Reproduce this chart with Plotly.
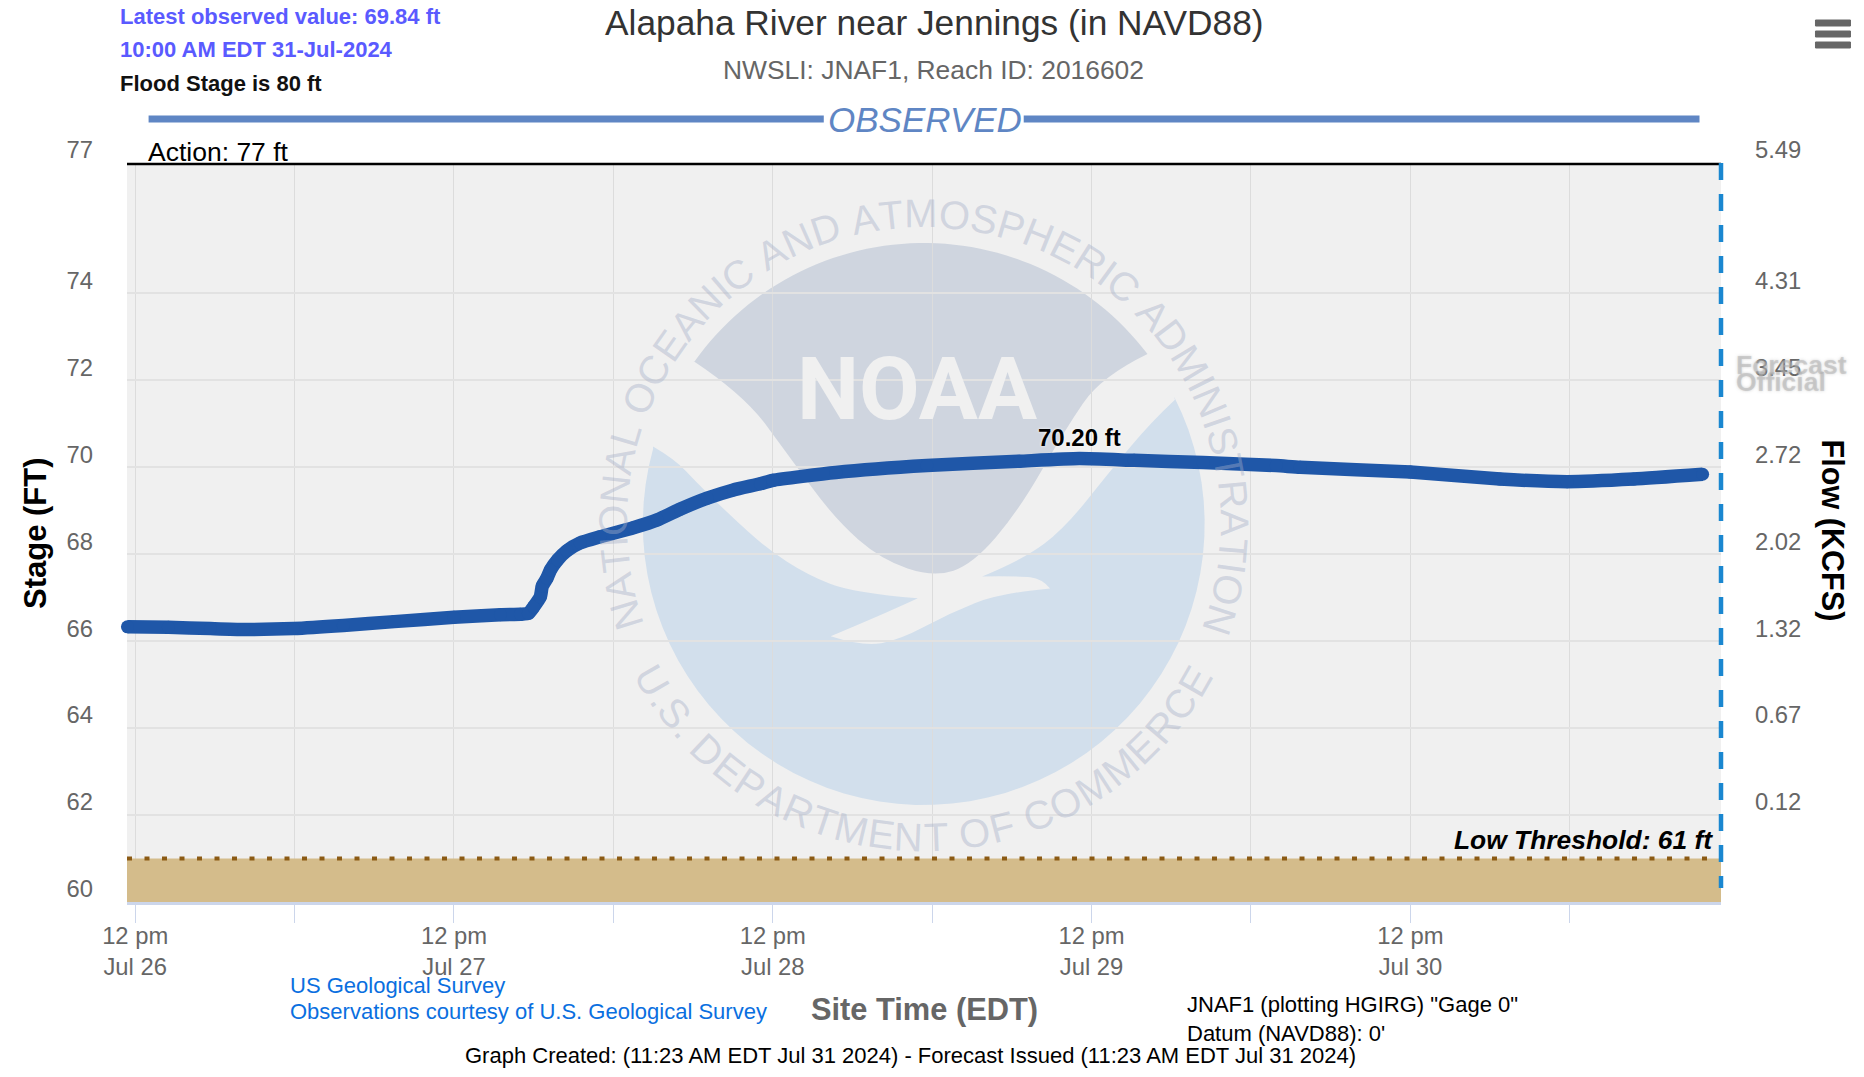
import math
import plotly.graph_objects as go

# Page pixels to paper coordinates (plot area runs 127-1721 across, 163-902 down)
px_x = lambda x: (x - 127) / (1721.5 - 127)
px_y = lambda y: (902 - y) / (902 - 163)
FONT = "Liberation Sans"

# Observed stage
obs = [("2024-07-26 11:25", 66.33), ("2024-07-26 14:30", 66.32), ("2024-07-26 17:40", 66.29), ("2024-07-26 20:10", 66.27),
       ("2024-07-26 23:55", 66.29), ("2024-07-27 03:40", 66.36), ("2024-07-27 07:30", 66.45), ("2024-07-27 12:00", 66.55),
       ("2024-07-27 15:30", 66.61), ("2024-07-27 17:00", 66.62), ("2024-07-27 17:36", 66.64), ("2024-07-27 18:00", 66.79),
       ("2024-07-27 18:30", 67.02), ("2024-07-27 18:39", 67.27), ("2024-07-27 19:00", 67.45), ("2024-07-27 19:16", 67.64),
       ("2024-07-27 19:48", 67.87), ("2024-07-27 20:30", 68.08), ("2024-07-27 21:30", 68.26), ("2024-07-27 23:00", 68.40),
       ("2024-07-28 01:30", 68.61), ("2024-07-28 03:18", 68.79), ("2024-07-28 05:03", 69.04), ("2024-07-28 07:04", 69.29),
       ("2024-07-28 09:02", 69.48), ("2024-07-28 11:04", 69.62), ("2024-07-28 12:00", 69.70), ("2024-07-28 16:45", 69.88),
       ("2024-07-28 23:36", 70.04), ("2024-07-29 06:34", 70.14), ("2024-07-29 11:04", 70.20), ("2024-07-29 15:12", 70.16),
       ("2024-07-29 20:24", 70.11), ("2024-07-30 01:54", 70.04), ("2024-07-30 03:42", 70.00), ("2024-07-30 12:00", 69.89),
       ("2024-07-30 18:45", 69.73), ("2024-07-30 23:48", 69.67), ("2024-07-31 04:48", 69.73), ("2024-07-31 10:00", 69.84)]
obs_time = [o[0] for o in obs]
obs_stage = [o[1] for o in obs]
start = "2024-07-26 11:23"
end = "2024-07-31 11:23"

stage_ticks = [60, 62, 64, 66, 68, 70, 72, 74, 77]
flow_ticks = [62, 64, 66, 68, 70, 72, 74, 77]
flow_labels = ["0.12", "0.67", "1.32", "2.02", "2.72", "3.45", "4.31", "5.49"]
time_ticks = ["2024-07-26 12:00", "2024-07-27 00:00", "2024-07-27 12:00", "2024-07-28 00:00", "2024-07-28 12:00",
              "2024-07-29 00:00", "2024-07-29 12:00", "2024-07-30 00:00", "2024-07-30 12:00", "2024-07-31 00:00"]
time_labels = ["12 pm<br>Jul 26", "", "12 pm<br>Jul 27", "", "12 pm<br>Jul 28", "", "12 pm<br>Jul 29", "",
               "12 pm<br>Jul 30", ""]

figure = go.Figure()
# Low threshold band
figure.add_trace(go.Scatter(x=[start, end], y=[61, 61], mode="lines", fill="tozeroy", fillcolor="#d4bc8b",
                            line=dict(color="#8b5a14", width=4, dash="5px,12.5px"), hoverinfo="skip"))
# Keeps the flow axis on the page
figure.add_trace(go.Scatter(x=[start], y=[60], mode="markers", yaxis="y2", marker=dict(opacity=0), hoverinfo="skip"))
figure.add_trace(go.Scatter(x=obs_time, y=obs_stage, mode="lines+markers", cliponaxis=False,
                            line=dict(color="#1f57a8", width=13.5, shape="spline", smoothing=0.5),
                            marker=dict(color="#1f57a8", size=13)))

figure.update_layout(
    width=1864, height=1077, margin=dict(l=127, r=142.5, t=163, b=175, autoexpand=False),
    paper_bgcolor="white", plot_bgcolor="#f0f0f0", showlegend=False, font=dict(family=FONT, size=23.8, color="#666666"),
    xaxis=dict(type="date", range=[start, end], tickmode="array", tickvals=time_ticks, ticktext=time_labels,
               ticks="outside", ticklen=18, tickcolor="#ccd6eb", gridcolor="#dcdcdc", gridwidth=1, ticklabelstandoff=-8,
               showline=True, linecolor="#ccd6eb", linewidth=3, zeroline=False),
    yaxis=dict(range=[60, 77], tickmode="array", tickvals=stage_ticks, ticklabelshift=-13, ticklabelstandoff=33,
               gridcolor="#e2e2e2", gridwidth=2, zeroline=False, ticks=""),
    yaxis2=dict(range=[60, 77], overlaying="y", side="right", tickmode="array", tickvals=flow_ticks,
                ticktext=flow_labels, ticklabelshift=-13, ticklabelstandoff=33, showgrid=False, zeroline=False, ticks=""),
)

# Action stage along the top of the plot, forecast divider down the right side
figure.add_shape(type="line", xref="paper", yref="paper", x0=0, x1=1, y0=px_y(164), y1=px_y(164), line=dict(color="black", width=2.5))
figure.add_shape(type="line", xref="paper", yref="paper", x0=1, x1=1, y0=1, y1=px_y(888),
                 line=dict(color="#1a87d0", width=4.5, dash="17px,14px"))

# NOAA seal behind the plot, outline
zx = lambda v: px_x(560 + v / 2.178)
zy = lambda v: px_y(180 + v / 2.24)


def curve(pts):
    out = ""
    for i in range(1, len(pts) - 1):
        if i < len(pts) - 2:
            nx, ny = (pts[i][0] + pts[i + 1][0]) / 2, (pts[i][1] + pts[i + 1][1]) / 2
        else:
            nx, ny = pts[i + 1]
        out += f" Q {zx(pts[i][0])},{zy(pts[i][1])} {zx(nx)},{zy(ny)}"
    return out


def arc(a0, a1):
    out = ""
    for k in range(61):
        a = math.radians(a0 + (a1 - a0) * k / 60)
        out += f" L {px_x(924 + 281 * math.sin(a))},{px_y(524 - 281 * math.cos(a))}"
    return out


gray_edge = [(1278, 388), (1180, 440), (1100, 560), (1000, 740), (900, 860), (815, 890), (700, 850), (600, 760),
             (500, 620), (400, 480), (290, 405)]
gray_path = f"M {zx(290)},{zy(405)}" + arc(-54.7, 52.8) + curve(gray_edge) + " Z"
blue_path = f"M {zx(203)},{zy(597)}"
blue_path += curve([(203, 597), (250, 625), (300, 680), (370, 750), (450, 825), (540, 885), (640, 925), (780, 937)])
blue_path += curve([(780, 937), (700, 975), (590, 1022)])
blue_path += curve([(590, 1022), (660, 1045), (740, 1030), (850, 970), (960, 925), (1068, 915)])
blue_path += curve([(1068, 915), (1050, 893), (1000, 887), (920, 888)])
blue_path += curve([(920, 888), (1010, 850), (1100, 780), (1200, 650), (1290, 540), (1340, 492)])
blue_path += arc(63.0, 285.5) + " Z"
figure.add_shape(type="path", path=gray_path, xref="paper", yref="paper", fillcolor="#cfd5df", line_width=0, layer="below")
figure.add_shape(type="path", path=blue_path, xref="paper", yref="paper", fillcolor="#d2dfec", line_width=0, layer="below")

# OBSERVED rule and the menu button
figure.add_shape(type="line", xref="paper", yref="paper", x0=px_x(148.6), x1=px_x(824), y0=px_y(119), y1=px_y(119),
                 line=dict(color="#5f86c4", width=7))
figure.add_shape(type="line", xref="paper", yref="paper", x0=px_x(1024), x1=px_x(1700), y0=px_y(119), y1=px_y(119),
                 line=dict(color="#5f86c4", width=7))
for y in [23, 34, 45]:
    figure.add_shape(type="rect", xref="paper", yref="paper", x0=px_x(1816), x1=px_x(1851), y0=px_y(y - 3), y1=px_y(y + 3),
                     fillcolor="#666666", line=dict(color="#666666", width=1))

# Page texts: text, x, y, anchor, size, colour, bold, italic
texts = [
    ("Alapaha River near Jennings (in NAVD88)", 935, 23, "center", 35.3, "#333333", False, False),
    ("NWSLI: JNAF1, Reach ID: 2016602", 934, 70, "center", 26.4, "#666666", False, False),
    ("Latest observed value: 69.84 ft", 118, 16, "left", 22, "#5a5aff", True, False),
    ("10:00 AM EDT 31-Jul-2024", 118, 49, "left", 22, "#5a5aff", True, False),
    ("Flood Stage is 80 ft", 118, 83, "left", 22, "#111111", True, False),
    ("OBSERVED", 925, 119, "center", 35, "#5f86c4", False, True),
    ("Action: 77 ft", 146, 152, "left", 26.5, "black", False, False),
    ("Low Threshold: 61 ft", 1715.5, 840, "right", 26.4, "black", True, True),
    ("Site Time (EDT)", 925, 1009, "center", 30.8, "#666666", True, False),
    ("US Geological Survey", 287.6, 985, "left", 22, "#0a6fe0", False, False),
    ("Observations courtesy of U.S. Geological Survey", 287.6, 1011, "left", 22, "#0a6fe0", False, False),
    ("JNAF1 (plotting HGIRG) \"Gage 0\"", 1185, 1004, "left", 22, "black", False, False),
    ("Datum (NAVD88): 0'", 1185, 1033, "left", 22, "black", False, False),
    ("Graph Created: (11:23 AM EDT Jul 31 2024) - Forecast Issued (11:23 AM EDT Jul 31 2024)", 911, 1055, "center", 22,
     "black", False, False),
]
for text, x, y, anchor, size, color, bold, italic in texts:
    figure.add_annotation(text=text, x=px_x(x), y=px_y(y), xref="paper", yref="paper", xanchor=anchor, yanchor="middle",
                          showarrow=False, font=dict(family=FONT, size=size, color=color, weight="bold" if bold else "normal",
                                                     style="italic" if italic else "normal"))
figure.add_annotation(text="Stage (FT)", x=px_x(35), y=px_y(533), xref="paper", yref="paper", showarrow=False, textangle=-90,
                      xanchor="center", yanchor="middle", font=dict(family=FONT, size=31, color="black", weight="bold"))
figure.add_annotation(text="Flow (KCFS)", x=px_x(1834), y=px_y(531), xref="paper", yref="paper", showarrow=False, textangle=90,
                      xanchor="center", yanchor="middle", font=dict(family=FONT, size=30.6, color="black", weight="bold"))

# Blurred stamp at the right edge
for text, y in [("Forecast", 365), ("Official", 382)]:
    figure.add_annotation(text=text, x=px_x(1735), y=px_y(y), xref="paper", yref="paper", xanchor="left", yanchor="middle",
                          showarrow=False,
                          font=dict(family=FONT, size=26.5, color="rgba(175,175,175,0.5)", weight="bold",
                                    shadow="0 0 3px #aaaaaa"))

# Peak label
figure.add_annotation(text="70.20 ft", x="2024-07-29 11:04", y=70.20, yshift=21, showarrow=False,
                      font=dict(family=FONT, size=24, color="black", weight="bold", shadow="0 0 3px white"))

# Seal lettering, one letter at a time around the ring
WIDTHS = {"I": .28, " ": .28, ".": .28, "M": .83, "L": .56, "T": .61, "S": .67, "E": .67, "O": .78, "A": .67, "P": .67, "F": .61}
for word, a0, a1, radius, lower in [("NATIONAL OCEANIC AND ATMOSPHERIC ADMINISTRATION", -107, 108, 311, False),
                                    ("U.S. DEPARTMENT OF COMMERCE", -60, 60, 313, True)]:
    sizes = [WIDTHS.get(c, .72) for c in word]
    run = 0
    for c, w in zip(word, sizes):
        a = a0 + (a1 - a0) * (run + w / 2 - sizes[0] / 2) / (sum(sizes) - sizes[0] / 2 - sizes[-1] / 2)
        run += w
        if c == " ":
            continue
        r = math.radians(a)
        x = 924 + radius * math.sin(r)
        y = 524 + radius * math.cos(r) if lower else 524 - radius * math.cos(r)
        figure.add_annotation(text=c, x=px_x(x), y=px_y(y), xref="paper", yref="paper", showarrow=False,
                              xanchor="center", yanchor="middle", textangle=-a if lower else a,
                              font=dict(family=FONT, size=40, color="rgba(165,175,200,0.42)"))
figure.add_annotation(text="NOAA", x=px_x(917), y=px_y(388), xref="paper", yref="paper", showarrow=False,
                      xanchor="center", yanchor="middle", font=dict(family="Roboto", size=88, color="#f0f0f0", weight="bold"))

figure.write_html("out.html", config={"displayModeBar": False}, post_script="document.body.style.margin = '0'")
